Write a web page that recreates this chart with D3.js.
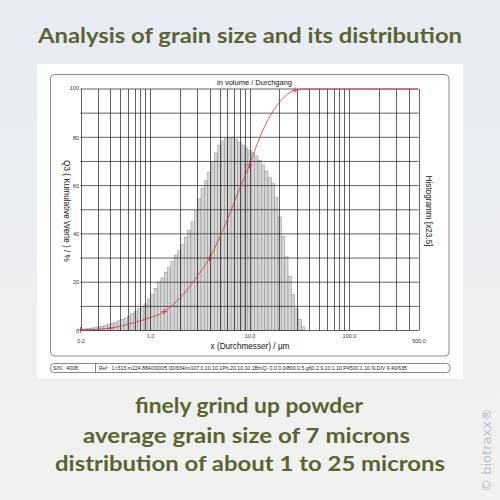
<!DOCTYPE html>
<html><head><meta charset="utf-8">
<script src="https://cdn.jsdelivr.net/npm/d3@7"></script>
<style>html,body{margin:0;padding:0;background:#eceff2}svg{display:block}</style>
</head><body><svg id="c" width="500" height="500"></svg>
<script>
// ---- data ----
const binEdges = [0.200,0.2161,0.2335,0.2523,0.2727,0.2946,0.3184,0.3440,0.3717,0.4017,0.4340,0.4690,0.5067,0.5476,0.5917,0.6393,0.6908,0.7465,0.8066,0.8716,0.9419,1.018,1.100,1.189,1.284,1.388,1.500,1.620,1.751,1.892,2.044,2.209,2.387,2.579,2.787,3.012,3.254,3.516,3.800,4.106,4.436,4.794,5.180,5.598,6.048,6.536,7.062,7.631,8.246,8.910,9.627,10.40,11.24,12.15,13.13,14.18,15.33,16.56,17.89,19.34,20.89,22.58,24.40,26.36,28.49,30.78,33.26,35.94];
const binHeights = [0.6,0.7,0.85,1.0,1.2,1.5,1.7,2.1,2.4,2.9,3.4,4.0,4.6,5.2,6.0,7.0,8.0,9.0,10.0,11.0,13.0,15.0,17.5,20.0,21.8,24.0,26.0,28.5,31.0,33.0,35.5,38.5,41.5,45.0,49.5,54.5,59.0,62.0,65.5,69.5,73.5,76.5,78.5,79.5,80.0,80.0,79.3,78.0,76.8,75.5,74.5,73.6,72.3,70.5,68.5,66.0,63.5,61.0,55.0,47.0,39.0,30.5,22.5,15.0,9.0,4.5,1.5];
const curveSizes  = [0.2,0.3,0.4,0.5,0.6,0.8,1.0,1.39,2.0,3.0,3.97,5.0,6.0,7.0,8.0,10.0,12.0,15.0,20.0,25.0,28.7,35.0,500];
const curveValues = [0.2,0.5,1.0,1.7,2.5,4.0,5.3,7.8,13.5,22.5,30.0,38.5,46.0,53.0,59.0,68.5,77.5,86.5,94.5,98.3,99.5,100,100];
const markerSizes  = [0.2,0.4,1.39,3.97,10.0,28.7];
const markerValues = [0.2,1.0,7.8,30.0,68.5,99.5];
const xTickValues = [0.2,1,10,100,500];
const xTickLabels = ["0.2","1.0","10.0","100.0","500.0"];
const yTickValues = [0,20,40,60,80,100];
const xGridValues = [0.2,0.3,0.4,0.5,0.6,0.7,0.8,0.9,1,2,3,4,5,6,7,8,9,10,20,30,40,50,60,70,80,90,100,200,300,400,500];
const yGridValues = [0,10,20,30,40,50,60,70,80,90,100];
const titleText = "Analysis of grain size and its distribution";
const captionLines = ["finely grind up powder","average grain size of 7 microns","distribution of about 1 to 25 microns"];
const refText = "Ref : 1.r313.m224.88A0000/5.00/634/m107.0.10.10.1Ph.20.10.10.1Bh/Q- 0.0.0.0/800.0.5,g60.2.9.10.1.10.P4500.1.10.N.D/V 9.40/635";

// ---- drawing ----
const svg = d3.select("#c");
const defs = svg.append("defs");
const g = defs.append("linearGradient").attr("id","bg").attr("x1",0).attr("y1",0).attr("x2",0).attr("y2",1);
g.append("stop").attr("offset","0%").attr("stop-color","#e7ebf4");
g.append("stop").attr("offset","100%").attr("stop-color","#f1f2ef");
svg.append("rect").attr("width",500).attr("height",500).attr("fill","url(#bg)");

const olive = "#5b6431";
const bigFont = "Lato";
svg.append("text").attr("x",250).attr("y",43).attr("text-anchor","middle")
  .attr("font-family",bigFont).attr("font-weight","bold").attr("font-size",21)
  .attr("fill",olive).attr("textLength",424).attr("lengthAdjust","spacingAndGlyphs").text(titleText);

// white panel
svg.append("rect").attr("x",37).attr("y",64).attr("width",426).attr("height",315).attr("fill","#ffffff");
// chart frame
svg.append("rect").attr("x",50.5).attr("y",74.5).attr("width",398.5).attr("height",281.5).attr("rx",4)
  .attr("fill","none").attr("stroke","#6a6a6a").attr("stroke-width",0.8);

const xs = d3.scaleLog().domain([0.2,500]).range([80.5,418.5]);
const ys = d3.scaleLinear().domain([0,100]).range([330.5,89]);

// bars
const bars = binHeights.map((h,i)=>({x0:binEdges[i],x1:binEdges[i+1],h}));
svg.append("g").selectAll("rect").data(bars).join("rect")
  .attr("x",d=>xs(d.x0)).attr("width",d=>xs(d.x1)-xs(d.x0))
  .attr("y",d=>ys(d.h)).attr("height",d=>ys(0)-ys(d.h))
  .attr("fill","#d5d5d5").attr("stroke","#8e8e8e").attr("stroke-width",0.5);

// grid
const grid = svg.append("g").attr("stroke","#1e1e1e").attr("stroke-width",0.7);
grid.selectAll("line.v").data(xGridValues).join("line").attr("class","v")
  .attr("x1",d=>Math.round(xs(d))+0.5).attr("x2",d=>Math.round(xs(d))+0.5)
  .attr("y1",ys(100)).attr("y2",ys(0));
grid.selectAll("line.h").data(yGridValues).join("line").attr("class","h")
  .attr("x1",xs(0.2)).attr("x2",xs(500))
  .attr("y1",d=>ys(d)).attr("y2",d=>ys(d));

// axes labels
const xa = svg.append("g").attr("transform",`translate(0,${ys(0)})`)
  .call(d3.axisBottom(xs).tickValues(xTickValues).tickFormat((d,i)=>xTickLabels[i]).tickSize(0).tickPadding(4));
xa.select(".domain").remove();
xa.selectAll("text").attr("font-family","Liberation Sans").attr("font-size",5.5).attr("fill","#333")
  .attr("dy",(d)=> (d===0.2||d===500)? "1.6em":"0.71em");
const ya = svg.append("g").attr("transform",`translate(${xs(0.2)},0)`)
  .call(d3.axisLeft(ys).tickValues(yTickValues).tickSize(0).tickPadding(1.5));
ya.select(".domain").remove();
ya.selectAll("text").attr("font-family","Liberation Sans").attr("font-size",5.5).attr("fill","#333")
  .attr("dy",d=>d===100?"0.05em":"0.32em");

// curve
const pts = curveSizes.map((s,i)=>[s,curveValues[i]]);
svg.append("path").datum(pts)
  .attr("d",d3.line().x(d=>xs(d[0])).y(d=>ys(d[1])).curve(d3.curveMonotoneX))
  .attr("fill","none").attr("stroke","#d0343a").attr("stroke-width",0.8);
const mk = svg.append("g").attr("stroke","#d0343a").attr("stroke-width",0.8);
markerSizes.forEach((s,i)=>{
  const cx = xs(s), cy = ys(markerValues[i]);
  mk.append("line").attr("x1",cx-3).attr("x2",cx+3).attr("y1",cy).attr("y2",cy);
  mk.append("line").attr("x1",cx).attr("x2",cx).attr("y1",cy-3).attr("y2",cy+3);
});

// chart texts
const f = "Liberation Sans";
svg.append("text").attr("x",254.5).attr("y",84.5).attr("text-anchor","middle")
  .attr("font-family",f).attr("font-size",7.5).attr("fill","#111").text("in volume / Durchgang");
svg.append("text").attr("x",250).attr("y",348.5).attr("text-anchor","middle")
  .attr("font-family",f).attr("font-size",8.2).attr("fill","#111").text("x (Durchmesser) / µm");
svg.append("text").attr("transform","translate(64,211) rotate(90)").attr("text-anchor","middle")
  .attr("font-family",f).attr("font-size",8.2).attr("fill","#111").text("Q3 ( Kumulative Werte ) / %");
svg.append("text").attr("transform","translate(425.5,211) rotate(90)").attr("text-anchor","middle")
  .attr("font-family",f).attr("font-size",8.2).attr("fill","#111").text("Histogramm [x23.5]");

// ref bar
svg.append("rect").attr("x",50.5).attr("y",363.5).attr("width",399.5).attr("height",9).attr("rx",3.5)
  .attr("fill","none").attr("stroke","#555").attr("stroke-width",0.7);
svg.append("line").attr("x1",95.5).attr("x2",95.5).attr("y1",363.5).attr("y2",372.5).attr("stroke","#555").attr("stroke-width",0.7);
svg.append("text").attr("x",53).attr("y",370).attr("font-family",f).attr("font-size",5.3).attr("fill","#222").text("S/N : 4008");
svg.append("text").attr("x",99).attr("y",370).attr("font-family",f).attr("font-size",5.3).attr("fill","#222")
  .attr("textLength",308).attr("lengthAdjust","spacingAndGlyphs").text(refText);

// caption
const capY = [413, 442.5, 470.5], capX = [249, 246.5, 250], capW = [228, 327, 390];
svg.append("g").selectAll("text").data(captionLines).join("text")
  .attr("x",(d,i)=>capX[i]).attr("y",(d,i)=>capY[i]).attr("text-anchor","middle")
  .attr("font-family",bigFont).attr("font-weight","bold").attr("font-size",20.5)
  .attr("fill",olive).attr("textLength",(d,i)=>capW[i]).attr("lengthAdjust","spacingAndGlyphs").text(d=>d);

// watermark
svg.append("text").attr("transform","translate(491,450) rotate(-90)").attr("text-anchor","middle")
  .attr("font-family","DejaVu Sans").attr("font-size",12.5).attr("fill","#b7c0c8")
  .attr("textLength",84).attr("lengthAdjust","spacingAndGlyphs").text("© biotraxx®");
</script>
</body></html>
